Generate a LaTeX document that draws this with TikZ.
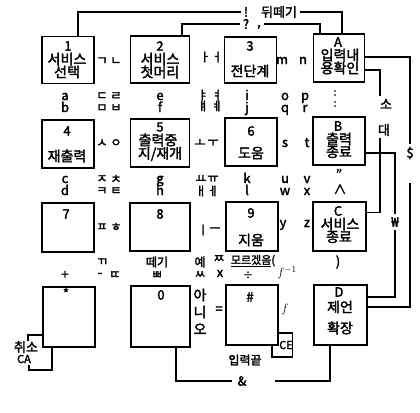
\documentclass[tikz,border=0pt]{standalone}
\usepackage{fontspec}
\setmainfont{Noto Sans CJK KR}[FakeBold=2.2]
\begin{document}
\begin{tikzpicture}[x=1pt,y=-1pt,
  key/.style={draw, line width=1.3pt, inner sep=0pt},
  wire/.style={line width=1.2pt},
  lbl/.style={inner sep=0pt},
  kw/.style={lbl, font=\fontsize{14}{14}\selectfont},
  dg/.style={lbl, font=\fontsize{13}{13}\selectfont},
  jm/.style={lbl, font=\fontsize{12}{12}\selectfont},
  lt/.style={lbl, anchor=base, font=\fontsize{13}{13}\selectfont},
  gap/.style={inner sep=3pt, font=\fontsize{13}{13}\selectfont}
]
\useasboundingbox (0,0) rectangle (420,412);

% keys
\node[key, minimum width=52pt, minimum height=47pt] (k1) at (68,60) {};
\node[key, minimum width=59pt, minimum height=47pt] (k2) at (160,59.5) {};
\node[key, minimum width=52pt, minimum height=46pt] (k3) at (250.5,60) {};
\node[key, minimum width=51pt, minimum height=48pt] (kA) at (339,58) {};
\node[key, minimum width=52pt, minimum height=48pt] (k4) at (68,144) {};
\node[key, minimum width=59pt, minimum height=48pt] (k5) at (160,143) {};
\node[key, minimum width=52pt, minimum height=48pt] (k6) at (251,142) {};
\node[key, minimum width=52pt, minimum height=48pt] (kB) at (339,141) {};
\node[key, minimum width=52pt, minimum height=49pt] (k7) at (68,227.5) {};
\node[key, minimum width=60pt, minimum height=48pt] (k8) at (160,227) {};
\node[key, minimum width=52pt, minimum height=49pt] (k9) at (252,226.5) {};
\node[key, minimum width=53pt, minimum height=49pt] (kC) at (339.5,226.5) {};
\node[key, minimum width=52pt, minimum height=60pt] (kS) at (69,317) {};
\node[key, minimum width=59pt, minimum height=61pt] (k0) at (160.5,316.5) {};
\node[key, minimum width=52pt, minimum height=60pt] (kH) at (252,315) {};
\node[key, minimum width=53pt, minimum height=60pt] (kD) at (340.5,315) {};

% key texts
\node[dg] (t1) at (68,46) {1};
\node[kw] (t1a) at (67,59) {서비스};
\node[kw] (t1b) at (67,72) {선택};
\node[dg] (t2) at (160,46) {2};
\node[kw] (t2a) at (160,59) {서비스};
\node[kw] (t2b) at (160,72) {첫머리};
\node[dg] (t3) at (250,46) {3};
\node[kw] (t3a) at (250,71) {전단계};
\node[dg] (tA) at (338,42) {A};
\node[kw] (tAa) at (340,55) {입력내};
\node[kw] (tAb) at (340,68) {용확인};
\node[dg] (t4) at (67,131) {4};
\node[kw] (t4a) at (67,156) {재출력};
\node[dg] (t5) at (160,127) {5};
\node[kw] (t5a) at (158,140) {출력중};
\node[kw] (t5b) at (160,154) {지/재개};
\node[dg] (t6) at (251,131) {6};
\node[kw] (t6a) at (251,153) {도움};
\node[dg] (tB) at (338,126) {B};
\node[kw] (tBa) at (339,139) {출력};
\node[kw] (tBb) at (339,152) {종료};
\node[dg] (t7) at (66,214) {7};
\node[dg] (t8) at (160,214) {8};
\node[dg] (t9) at (251,213) {9};
\node[kw] (t9a) at (251,240) {지움};
\node[dg] (tC) at (338,211) {C};
\node[kw] (tCa) at (340,224) {서비스};
\node[kw] (tCb) at (339,237) {종료};
\node[dg] (tS) at (66,293) {*};
\node[dg] (t0) at (161,295) {0};
\node[dg] (tH) at (250,297) {\#};
\node[dg] (tD) at (339,292) {D};
\node[kw] (tDa) at (340,307) {제언};
\node[kw] (tDb) at (340,328) {확장};

% latin letters
\foreach \n/\x/\y/\t in {la/65/100/a, lb/65/112/b, le/160/100/e, lf/160/112/f,
  li/247/100/i, lj/247/112/j, lo/285/100/o, lp/305/100/p, lq/285/112/q, lr/305/112/r,
  lm/282/64/m, ln/303/64/n, ls/285/147/s, lt/307/147/t,
  lc/65/183/c, ld/65/195/d, lg/160/183/g, lh/160/195/h, lk/247/183/k, ll/247/195/l,
  lu/285/183/u, lv/307/183/v, lw/285/195/w, lx/307/195/x,
  ly/283/227/y, lz/307/227/z, lxx/220/277/x}
  \node[lt] (\n) at (\x,\y) {\t};

% jamo
\foreach \n/\x/\y/\t in {j1/102/61/ㄱ, j2/116/61/ㄴ,
  j3/102/96/ㄷ, j4/116/96/ㄹ, j5/102/108/ㅁ, j6/116/108/ㅂ,
  j7/205/57/ㅏ, j8/217/57/ㅓ,
  j9/203/95/ㅑ, j10/217/95/ㅕ, j11/203/106/ㅒ, j12/217/106/ㅖ,
  j13/102/143/ㅅ, j14/116/143/ㅇ, j15/200/143/ㅗ, j16/213/143/ㅜ,
  j17/102/179/ㅈ, j18/116/179/ㅊ, j19/102/191/ㅋ, j20/116/191/ㅌ,
  j21/201/179/ㅛ, j22/213/179/ㅠ, j23/201/191/ㅐ, j24/213/191/ㅔ,
  j25/102/227/ㅍ, j26/116/227/ㅎ, j27/203/230/ㅣ, j28/215/230/ㅡ,
  j29/102/262/ㄲ, j30/115/275/ㄸ, j31/157/275/ㅃ, j32/200/275/ㅆ, j33/219/259/ㅉ}
  \node[jm] (\n) at (\x,\y) {\t};

% other symbols and words
\node[dg] (dash) at (100,275) {-};
\node[dg] (plus) at (65,275) {+};
\node[jm] (ttg) at (157,262) {떼기};
\node[jm] (ye) at (200,262) {예};
\node[lbl, font=\fontsize{11}{11}\selectfont] (mor) at (253,261) {\underline{모르겠음}(};
\node[lbl, font=\fontsize{10}{10}\selectfont] (div) at (248,275) {÷};
\node[dg] (finv) at (287,273) {$f^{-1}$};
\node[dg] (rp) at (338,262) {)};
\node[lbl, font=\fontsize{10}{10}\selectfont] (col1) at (335,93) {:};
\node[lbl, font=\fontsize{10}{10}\selectfont] (col2) at (335,104) {:};
\node[dg] (quo) at (339,174) {"};
\node[dg] (wedge) at (340,189) {∧};
\node[kw] (ani1) at (200,295) {아};
\node[kw] (ani2) at (200,312) {니};
\node[kw] (ani3) at (200,329) {오};
\node[dg] (eq) at (219,310) {=};
\node[dg] (fit) at (285,309) {$f$};

% top connectors
\node[gap] (bang) at (246,12) {!};
\node[gap] (dwi) at (279,12) {뒤떼기};
\node[gap] (qm) at (246,24) {?};
\node[gap] (cm) at (259,27) {,};
\draw[wire] ([xshift=10pt]k1.north) |- (bang.west);
\draw[wire] (dwi.east) -| ([xshift=3pt]kA.north);
\draw[wire] ([xshift=22pt]k2.north) |- (qm.west);
\draw[wire] (cm.east |- qm) -| ([xshift=-19pt]kA.north);

% right connectors
\node[gap] (dol) at (410,153) {\$};
\coordinate (dolb) at (410,183);
\draw[wire] ([yshift=1pt]kA.east) -| (dol.north);
\draw[wire] (dolb) |- ([yshift=8pt]kD.east);

\node[dg] (so) at (386,104) {소};
\node[dg] (dae) at (384,130) {대};
\coordinate (soT) at (380,96);
\coordinate (daeB) at (380,138);
\draw[wire] ([yshift=-12pt]kA.east) -| (soT);
\draw[wire] (daeB) |- ([yshift=14pt]kC.east);

\node[gap] (won) at (395,222) {₩};
\draw[wire] ([yshift=-12pt]kB.east) -| (won.north);
\draw[wire] (won.south) |- ([yshift=18pt]kD.east);

% bottom connectors
\node[gap, inner sep=5pt] (amp) at (242,381) {\&};
\coordinate (ampR) at (275,381);
\draw[wire] ([xshift=15.5pt]k0.south) |- (amp.west);
\draw[wire] (ampR) -| ([xshift=-10.5pt]kD.south);

\node[dg] (cxl) at (26,347) {취소};
\node[lbl, font=\fontsize{11}{11}\selectfont] (ca) at (24,359) {CA};
\coordinate (ca1) at (28,341);
\coordinate (ca2) at (29,365);
\draw[wire] ([yshift=-18pt]kS.west) -| (ca1);
\draw[wire] (ca2) -- ++(0,5) -| ([xshift=-17pt]kS.south);

\node[lbl, font=\fontsize{11}{11}\selectfont] (ce) at (286,345) {CE};
\draw[wire] ([yshift=-18pt]kH.east) -- ++(14,0) -- ++(0,24) -| ([xshift=20pt]kH.south);
\node[jm] (iend) at (245,360) {입력끝};
\end{tikzpicture}
\end{document}
